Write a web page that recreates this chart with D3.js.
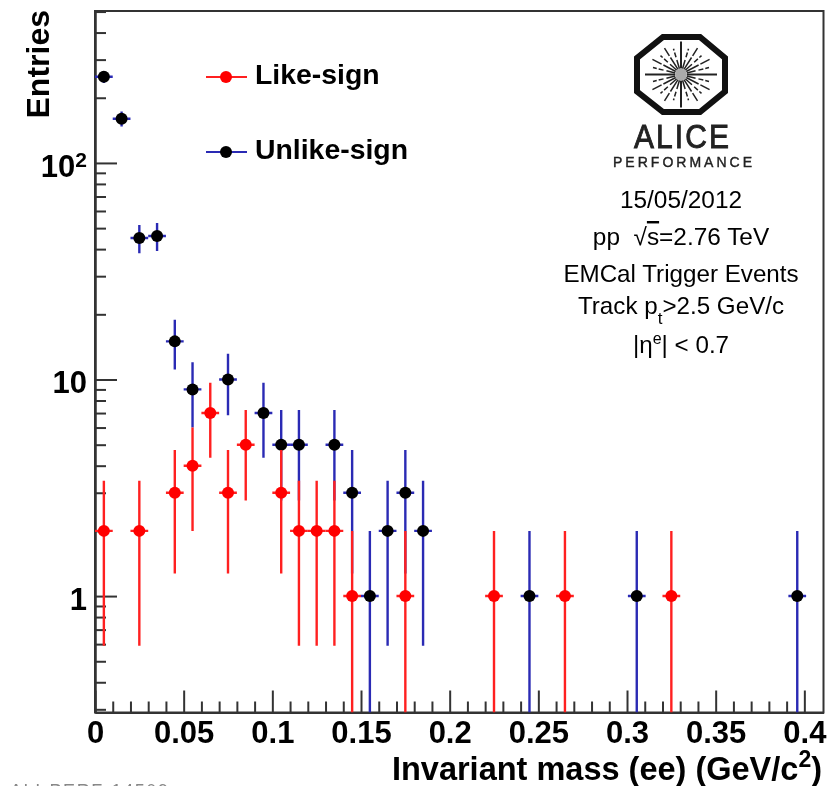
<!DOCTYPE html>
<html lang="en">
    <head>
	<meta charset="utf-8">
	<title>Invariant mass (ee)</title>
	<script src="https://cdn.jsdelivr.net/npm/d3@7"></script>
	<style>
	 html, body { margin: 0; padding: 0; background: #fff; overflow: hidden; }
	 svg { display: block; filter: blur(0.5px); }
	 text { font-family: "Liberation Sans", Arial, sans-serif; fill: #000; }
	 .axis text { font-weight: bold; font-size: 31px; }
	 .axis path, .axis line { stroke: #333; stroke-width: 2px; }
	</style>
    </head>
    <body>
	<script type="text/javascript">

	 //Values
	 var likeMass = [0.005, 0.025, 0.045, 0.055, 0.065, 0.075, 0.085, 0.105, 0.115, 0.125, 0.135, 0.145, 0.175, 0.225, 0.265, 0.325];
	 var likeEntries = [2, 2, 3, 4, 7, 3, 5, 3, 2, 2, 2, 1, 1, 1, 1, 1];
	 var likeErrors = [1.41, 1.41, 1.73, 2, 2.65, 1.73, 2.24, 1.73, 1.41, 1.41, 1.41, 1, 1, 1, 1, 1];

	 var unlikeMass = [0.005, 0.015, 0.025, 0.035, 0.045, 0.055, 0.075, 0.095, 0.105, 0.115, 0.135, 0.145, 0.155, 0.165, 0.175, 0.185, 0.245, 0.3055, 0.396];
	 var unlikeEntries = [250, 160, 45, 46, 15, 9, 10, 7, 5, 5, 5, 3, 1, 2, 3, 2, 1, 1, 1];
	 var unlikeErrors = [15.8, 12.6, 6.7, 6.8, 3.87, 3, 3.16, 2.65, 2.24, 2.24, 2.24, 1.73, 1, 1.41, 1.73, 1.41, 1, 1, 1];

	 var binHalfWidth = 0.005;

	 var xMajor = [0, 0.05, 0.1, 0.15, 0.2, 0.25, 0.3, 0.35, 0.4];
	 var xLabels = ["0", "0.05", "0.1", "0.15", "0.2", "0.25", "0.3", "0.35", "0.4"];
	 var xMinor = [0.01, 0.02, 0.03, 0.04, 0.06, 0.07, 0.08, 0.09, 0.11, 0.12, 0.13, 0.14, 0.16, 0.17, 0.18, 0.19, 0.21, 0.22, 0.23, 0.24, 0.26, 0.27, 0.28, 0.29, 0.31, 0.32, 0.33, 0.34, 0.36, 0.37, 0.38, 0.39];
	 var yMajor = [1, 10, 100];
	 var yLabels = ["1", "10", "10"];
	 var yMinor = [0.3, 0.4, 0.5, 0.6, 0.7, 0.8, 0.9, 2, 3, 4, 5, 6, 7, 8, 9, 20, 30, 40, 50, 60, 70, 80, 90, 200, 300, 400, 500];

	 //Display specifications
	 var width = 840;
	 var height = 786;
	 var plot = {left: 95, right: 823.5, top: 11, bottom: 712.5};

	 var red = "#ff2020";
	 var blue = "#2a2ab4";

	 var svg = d3.select("body")
		     .append("svg")
		     .attr("width", width)
		     .attr("height", height);

	 //Set scales
	 var xScale = d3.scaleLinear()
			.domain([0, 0.4108])
			.range([plot.left, plot.right]);

	 var yScale = d3.scaleLog()
			.domain([0.29, 503])
			.range([plot.bottom, plot.top]);

	 svg.append("clipPath")
	    .attr("id", "plotArea")
	    .append("rect")
	    .attr("x", plot.left)
	    .attr("y", plot.top)
	    .attr("width", plot.right - plot.left)
	    .attr("height", plot.bottom - plot.top);

	 //Frame
	 svg.append("rect")
	    .attr("x", plot.left)
	    .attr("y", plot.top)
	    .attr("width", plot.right - plot.left)
	    .attr("height", plot.bottom - plot.top)
	    .style("fill", "none")
	    .style("stroke", "#333")
	    .style("stroke-width", 2);

	 //Axes, ticks point into the plot
	 svg.append("g")
	    .attr("class", "axis")
	    .attr("transform", "translate(0," + plot.bottom + ")")
	    .call(d3.axisBottom(xScale).tickValues(xMinor).tickSize(-11).tickSizeOuter(0).tickFormat(""));
	 var xAxis = svg.append("g")
			.attr("class", "axis")
			.attr("transform", "translate(0," + plot.bottom + ")")
			.call(d3.axisBottom(xScale)
				.tickValues(xMajor)
				.tickSize(-22)
				.tickSizeOuter(0)
				.tickFormat(function (d, i) {
				    return xLabels[i];
				}));
	 svg.append("g")
	    .attr("class", "axis")
	    .attr("transform", "translate(" + plot.left + ",0)")
	    .call(d3.axisLeft(yScale).tickValues(yMinor).tickSize(-11).tickSizeOuter(0).tickFormat(""));
	 var yAxis = svg.append("g")
			.attr("class", "axis")
			.attr("transform", "translate(" + plot.left + ",0)")
			.call(d3.axisLeft(yScale)
				.tickValues(yMajor)
				.tickSize(-22)
				.tickSizeOuter(0)
				.tickPadding(8)
				.tickFormat(function (d, i) {
				    return yLabels[i];
				}));

	 xAxis.selectAll(".tick text").attr("y", 8.5);
	 yAxis.selectAll(".tick text").attr("dy", "0.42em");

	 //10 with a raised 2
	 yAxis.selectAll(".tick text")
	      .filter(function (d) { return d == 100; })
	      .attr("dy", "0.45em")
	      .append("tspan")
	      .attr("dy", "-0.5em")
	      .style("font-size", "21px")
	      .text("2");

	 //Axis titles
	 svg.append("text")
	    .attr("transform", "translate(49,10) rotate(-90)")
	    .attr("text-anchor", "end")
	    .style("font-weight", "bold")
	    .style("font-size", "32px")
	    .text("Entries");

	 var xTitle = svg.append("text")
			 .attr("x", 822)
			 .attr("y", 780)
			 .attr("text-anchor", "end")
			 .style("font-weight", "bold")
			 .style("font-size", "32.5px");
	 xTitle.append("tspan").text("Invariant mass (ee) (GeV/c");
	 xTitle.append("tspan").attr("dy", -13).style("font-size", "23px").text("2");
	 xTitle.append("tspan").attr("dy", 13).text(")");

	 //Draw one series: error bars, then markers
	 function drawSeries(mass, entries, errors, lineColor, markerColor) {
	     var points = mass.map(function (m, i) {
		 return {mass: m, entries: entries[i], error: errors[i]};
	     });
	     var g = svg.append("g").attr("clip-path", "url(#plotArea)");

	     g.selectAll("line.vertical")
	      .data(points)
	      .enter()
	      .append("line")
	      .attr("class", "vertical")
	      .attr("x1", function (d) { return xScale(d.mass); })
	      .attr("x2", function (d) { return xScale(d.mass); })
	      .attr("y1", function (d) { return yScale(d.entries + d.error); })
	      .attr("y2", function (d) { return yScale(Math.max(d.entries - d.error, 0.29)); })
	      .style("stroke", lineColor)
	      .style("stroke-width", 2.4);

	     g.selectAll("line.horizontal")
	      .data(points)
	      .enter()
	      .append("line")
	      .attr("class", "horizontal")
	      .attr("x1", function (d) { return xScale(d.mass - binHalfWidth); })
	      .attr("x2", function (d) { return xScale(d.mass + binHalfWidth); })
	      .attr("y1", function (d) { return yScale(d.entries); })
	      .attr("y2", function (d) { return yScale(d.entries); })
	      .style("stroke", lineColor)
	      .style("stroke-width", 2.4);

	     g.selectAll("circle")
	      .data(points)
	      .enter()
	      .append("circle")
	      .attr("cx", function (d) { return xScale(d.mass); })
	      .attr("cy", function (d) { return yScale(d.entries); })
	      .attr("r", 6)
	      .style("fill", markerColor);
	 }

	 drawSeries(unlikeMass, unlikeEntries, unlikeErrors, blue, "#000");
	 drawSeries(likeMass, likeEntries, likeErrors, red, "#ff0000");

	 //Legend
	 var legend = svg.selectAll("g.legend")
			 .data([
			     {name: "Like-sign", line: red, marker: "#ff0000", y: 77},
			     {name: "Unlike-sign", line: blue, marker: "#000", y: 152}
			 ])
			 .enter()
			 .append("g")
			 .attr("class", "legend")
			 .attr("transform", function (d) { return "translate(0," + d.y + ")"; });
	 legend.append("line")
	       .attr("x1", 206).attr("x2", 247)
	       .style("stroke", function (d) { return d.line; })
	       .style("stroke-width", 2.2);
	 legend.append("circle")
	       .attr("cx", 226)
	       .attr("r", 6)
	       .style("fill", function (d) { return d.marker; });
	 legend.append("text")
	       .attr("x", 255)
	       .attr("y", 7)
	       .style("font-weight", "bold")
	       .style("font-size", "28.4px")
	       .text(function (d) { return d.name; });

	 //ALICE logo
	 var logo = svg.append("g").attr("transform", "translate(681,74.5)");
	 logo.append("path")
	     .attr("d", "M-18,-37.5L19,-37.5L44,-16.5L44,17L19,37.5L-18,37.5L-44,17L-44,-16.5Z")
	     .style("fill", "none")
	     .style("stroke", "#111")
	     .style("stroke-width", 6);
	 d3.range(24).forEach(function (i) {
	     var a = i * Math.PI / 12;
	     var rx = i % 6 == 0 ? 36 : (i % 2 == 0 ? 33 : 29);
	     logo.append("line")
		 .attr("x1", 6 * Math.cos(a))
		 .attr("y1", 6 * Math.sin(a))
		 .attr("x2", rx * Math.cos(a))
		 .attr("y2", rx * 0.92 * Math.sin(a))
		 .style("stroke", "#222")
		 .style("stroke-width", i % 6 == 0 ? 2 : 1.5)
		 .style("stroke-dasharray", i % 6 == 0 ? "none" : (i % 2 == 0 ? "14 2 20" : "9 3 5 2 20"));
	 });
	 logo.append("circle").attr("r", 6).style("fill", "#aaa");

	 svg.append("text")
	    .attr("transform", "translate(634,148) scale(1,1.12)")
	    .attr("textLength", 95)
	    .style("font-size", "30px")
	    .style("fill", "#222")
	    .style("stroke", "#222")
	    .style("stroke-width", 0.8)
	    .text("ALICE");
	 svg.append("text")
	    .attr("x", 613)
	    .attr("y", 167)
	    .attr("textLength", 139)
	    .style("font-size", "14px")
	    .style("fill", "#222")
	    .style("stroke", "#222")
	    .style("stroke-width", 0.4)
	    .text("PERFORMANCE");

	 //Info block
	 function infoLine(y, size) {
	     return svg.append("text")
		       .attr("x", 681)
		       .attr("y", y)
		       .attr("text-anchor", "middle")
		       .style("font-size", size + "px");
	 }

	 infoLine(208, 24.4).text("15/05/2012");

	 var ppLine = infoLine(245, 24.4);
	 ppLine.append("tspan").text("pp\u00A0\u00A0\u221A");
	 ppLine.append("tspan").style("text-decoration", "overline").text("s");
	 ppLine.append("tspan").text("=2.76 TeV");

	 infoLine(282, 24.2).text("EMCal Trigger Events");

	 var trackLine = infoLine(314, 24.2);
	 trackLine.append("tspan").text("Track p");
	 trackLine.append("tspan").attr("dy", 10).style("font-size", "17px").text("t");
	 trackLine.append("tspan").attr("dy", -10).text(">2.5 GeV/c");

	 var etaLine = infoLine(353, 24.2);
	 etaLine.append("tspan").text("|\u03B7");
	 etaLine.append("tspan").attr("dy", -9).style("font-size", "16px").text("e");
	 etaLine.append("tspan").attr("dy", 9).text("| < 0.7");

	 //Reference number cut off at the bottom of the picture
	 svg.append("text")
	    .attr("x", 10)
	    .attr("y", 797)
	    .attr("textLength", 158)
	    .style("font-size", "18px")
	    .style("fill", "#888")
	    .text("ALI-PERF-14509");

	</script>
    </body>
</html>
